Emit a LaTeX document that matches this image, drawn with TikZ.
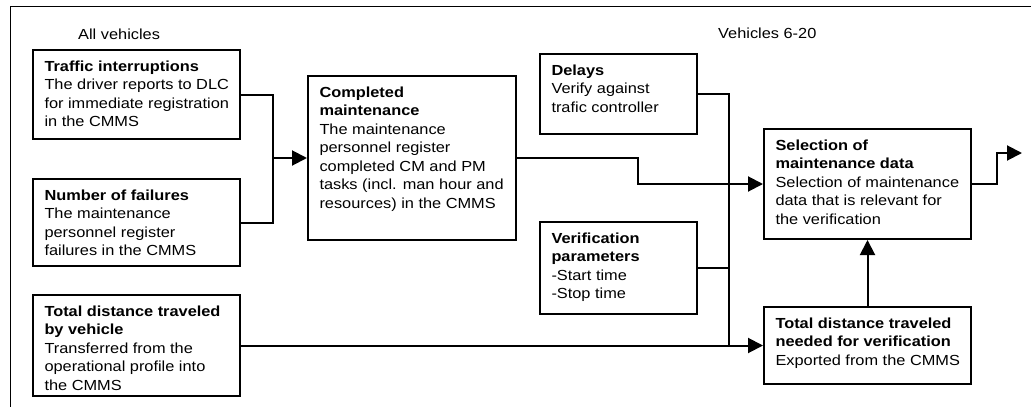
\documentclass[tikz,border=0pt]{standalone}
\usepackage{fontspec}
\setmainfont{Liberation Sans}[FakeStretch=1.12]
\usetikzlibrary{arrows.meta,calc}

% box body: width, height, text (top-left aligned with a fixed first baseline)
\newcommand\boxbody[3]{\parbox[c][#2][t]{#1}{\leftskip=11.5pt\rightskip=0pt plus 1fil\rule{0pt}{21pt}#3}}

\tikzset{
  stage/.style={draw, line width=2pt, inner sep=0pt, anchor=north west,
    font=\fontsize{14.6}{18.5}\selectfont},
  conn/.style={line width=2pt},
  arr/.style={line width=2pt, -{Triangle[length=15pt,width=15pt]}},
  note/.style={inner sep=0pt, anchor=base west, font=\fontsize{14.6}{18.5}\selectfont}
}

\begin{document}
\begin{tikzpicture}[x=1pt,y=-1pt]
\useasboundingbox (0,0) rectangle (1031,407);

% outer frame (top and left edges)
\draw[line width=1.5pt] (10.5,407) -- (10.5,6.5) -- (1031,6.5);

\node[note] (allveh) at (78,39) {All vehicles};
\node[note] (veh620) at (718,38) {Vehicles 6-20};

\node[stage] (traffic) at (32,49) {\boxbody{207pt}{89pt}{%
  \textbf{Traffic interruptions}\\
  The driver reports to DLC\\
  for immediate registration\\
  in the CMMS}};

\node[stage] (failures) at (32,178) {\boxbody{207pt}{87pt}{%
  \textbf{Number of failures}\\
  The maintenance\\
  personnel register\\
  failures in the CMMS}};

\node[stage] (distance) at (32,294) {\boxbody{207pt}{101pt}{%
  \textbf{Total distance traveled}\\
  \textbf{by vehicle}\\
  Transferred from the\\
  operational profile into\\
  the CMMS}};

\node[stage] (completed) at (307,75) {\boxbody{208pt}{164pt}{%
  \textbf{Completed}\\
  \textbf{maintenance}\\
  The maintenance\\
  personnel register\\
  completed CM and PM\\
  tasks (incl. man hour and\\
  resources) in the CMMS}};

\node[stage] (delays) at (539,53) {\boxbody{157pt}{80pt}{%
  \textbf{Delays}\\
  Verify against\\
  trafic controller}};

\node[stage] (verif) at (539,221) {\boxbody{157pt}{92pt}{%
  \textbf{Verification}\\
  \textbf{parameters}\\
  -Start time\\
  -Stop time}};

\node[stage] (selection) at (763,128) {\boxbody{207pt}{110pt}{%
  \textbf{Selection of}\\
  \textbf{maintenance data}\\
  Selection of maintenance\\
  data that is relevant for\\
  the verification}};

\node[stage] (needed) at (763,306) {\boxbody{207pt}{77pt}{%
  \textbf{Total distance traveled}\\
  \textbf{needed for verification}\\
  Exported from the CMMS}};

% bus positions
\coordinate (jx) at (273,0);
\coordinate (bx) at (638,0);
\coordinate (cx) at (729,0);
\coordinate (ox) at (997,0);
\coordinate (out) at (1022,153);
\coordinate (j1) at (completed.west -| jx);

% all vehicles -> completed maintenance
\draw[conn] (traffic.east) -| (j1) |- (failures.east);
\draw[arr] (j1) -- (completed.west);

% completed maintenance -> selection
\draw[arr] (completed.east) -- (completed.east -| bx) |- (selection.west);

% delays and verification parameters -> distance needed
\draw[conn] (delays.east) -| (needed.west -| cx);
\draw[conn] (verif.east) -- (verif.east -| cx);
\draw[arr] (distance.east) -- (needed.west);

% distance needed -> selection -> onwards
\draw[arr] (needed.north) -- (selection.south);
\draw[arr] (selection.east) -- (selection.east -| ox) |- (out);
\end{tikzpicture}
\end{document}
